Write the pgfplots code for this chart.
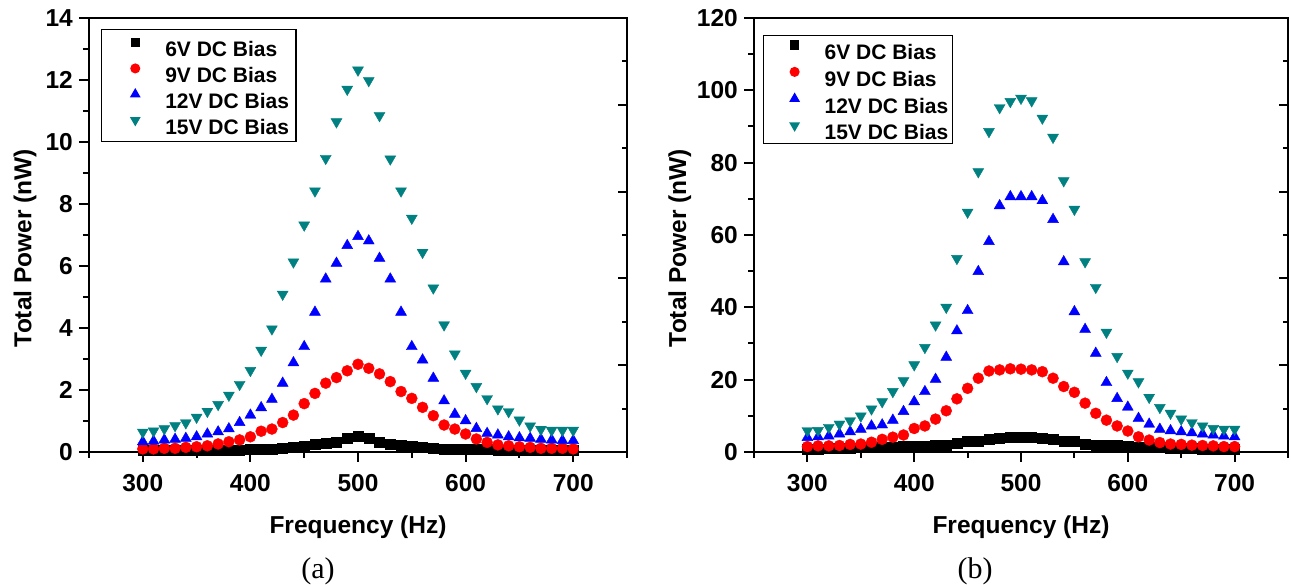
\documentclass[border=0pt]{standalone}
\usepackage{pgfplots}
\pgfplotsset{compat=1.18}
\usepackage{pgfplotstable}
\usepackage{fontspec}
\setmainfont{Liberation Sans}
\newfontfamily\serifff{Liberation Serif}
\definecolor{tealc}{RGB}{0,128,128}
\definecolor{redc}{RGB}{255,0,0}
\definecolor{bluec}{RGB}{0,0,255}

\pgfplotstableread{
f k6 k9 k12 k15
300 0.05 0.10 0.33 0.64
310 0.05 0.10 0.35 0.68
320 0.05 0.12 0.39 0.75
330 0.05 0.12 0.41 0.85
340 0.05 0.15 0.44 0.94
350 0.06 0.17 0.49 1.12
360 0.06 0.20 0.58 1.31
370 0.06 0.26 0.65 1.53
380 0.06 0.33 0.75 1.83
390 0.07 0.39 0.95 2.18
400 0.08 0.49 1.19 2.63
410 0.08 0.67 1.43 3.28
420 0.10 0.74 1.70 3.97
430 0.12 0.95 2.22 5.09
440 0.15 1.19 2.88 6.13
450 0.19 1.56 3.40 7.32
460 0.25 1.89 4.51 8.42
470 0.28 2.22 5.58 9.47
480 0.31 2.40 6.09 10.65
490 0.44 2.62 6.66 11.70
500 0.50 2.83 6.95 12.32
510 0.45 2.70 6.81 11.98
520 0.30 2.52 6.25 10.85
530 0.26 2.27 5.58 9.45
540 0.23 1.95 4.51 8.42
550 0.19 1.73 3.40 7.54
560 0.15 1.44 2.97 6.44
570 0.12 1.17 2.38 5.29
580 0.10 0.87 1.65 4.10
590 0.10 0.74 1.22 3.16
600 0.09 0.58 1.01 2.54
610 0.08 0.42 0.76 2.11
620 0.08 0.31 0.60 1.72
630 0.07 0.23 0.55 1.39
640 0.07 0.20 0.49 1.30
650 0.06 0.17 0.46 1.03
660 0.06 0.15 0.44 0.84
670 0.06 0.12 0.41 0.73
680 0.05 0.12 0.39 0.70
690 0.05 0.12 0.37 0.70
700 0.05 0.10 0.37 0.70
}\dataA

\pgfplotstableread{
f k6 k9 k12 k15
300 0.9 1.5 4.0 5.9
310 0.9 1.7 4.2 5.95
320 1.0 1.7 4.4 6.8
330 1.0 1.8 5.0 7.7
340 1.1 2.1 5.6 8.6
350 1.2 2.2 6.3 9.95
360 1.3 2.7 7.2 11.9
370 1.3 3.5 7.5 13.9
380 1.3 4.1 8.8 16.7
390 1.5 4.7 11.2 19.7
400 1.5 6.5 13.9 24.1
410 1.7 7.2 16.7 28.9
420 1.8 9.1 20.1 35.1
430 2.0 11.4 26.2 40.0
440 2.4 14.7 33.5 53.5
450 2.9 17.6 39.1 66.3
460 3.1 20.4 49.9 77.5
470 3.5 22.4 58.2 88.6
480 3.9 22.7 68.1 95.2
490 4.2 23.0 70.6 96.9
500 4.2 22.9 70.6 97.8
510 4.2 22.7 70.6 97.1
520 3.9 22.2 69.5 92.3
530 3.5 20.4 64.3 87.0
540 3.1 18.1 52.6 75.0
550 2.9 16.5 38.8 67.1
560 2.2 13.5 33.9 52.6
570 2.0 10.7 27.3 45.5
580 1.8 8.8 19.2 33.1
590 1.8 7.2 14.8 26.4
600 1.5 5.8 12.4 21.8
610 1.3 4.2 9.3 19.4
620 1.3 3.3 7.7 15.1
630 1.2 2.6 6.3 12.3
640 1.1 2.2 5.9 10.7
650 1.0 2.1 5.6 9.1
660 1.0 1.9 5.3 8.1
670 0.9 1.8 5.0 7.2
680 0.9 1.7 4.7 6.5
690 0.9 1.5 4.4 6.3
700 0.9 1.5 4.2 6.3
}\dataB

\pgfplotsset{
  mainax/.style={
    scale only axis, height=434pt,
    xmin=250, xmax=750, ymin=0,
    xtick={300,400,...,700}, minor xtick={250,350,...,750},
    xtick pos=left, ytick pos=left, tick align=outside,
    major tick length=10pt, minor tick length=6pt,
    axis line style={line width=2.4pt},
    every tick/.style={black, line width=2pt},
    /pgf/number format/assume math mode=true,
    tick label style={font=\fontsize{24.5}{24.5}\selectfont\bfseries},
    xticklabel style={inner sep=0pt, yshift=-12pt},
    yticklabel style={inner sep=0pt, xshift=-6pt},
    xlabel={Frequency (Hz)},
    ylabel={Total Power (nW)},
    every axis x label/.style={at={(axis description cs:0.5,-0.174)}, anchor=center,
      font=\fontsize{24.5}{24.5}\selectfont\bfseries},
    only marks,
    legend image code/.code={\path[draw=none,fill=none] (-27pt,0pt) rectangle (30pt,15pt);
      \draw[##1, every mark/.append style={scale=0.8}] plot coordinates {(0pt,7.5pt)};},
    legend cell align=left,
    legend style={anchor=north west, draw=black, line width=1.2pt,
      inner xsep=7pt, column sep=0pt,
      nodes={inner sep=0pt}, font=\fontsize{21}{21}\selectfont\bfseries},
  },
  mirrorax/.style={
    scale only axis, height=434pt,
    xmin=250, xmax=750, ymin=0, ymax=5,
    xtick=\empty, minor xtick={300,350,...,700},
    ytick={0,1,...,5}, minor ytick={0.5,1.5,...,4.5},
    xtick pos=right, ytick pos=right, tick align=inside,
    xticklabels={}, yticklabels={},
    major tick length=9pt, minor tick length=5pt,
    axis line style={draw=none},
    every tick/.style={black, line width=2pt},
  },
  s6/.style={mark=square*, color=black, mark size=5pt},
  s9/.style={mark=*, color=redc, mark size=5.5pt},
  s12/.style={mark=triangle*, color=bluec, mark size=6.3pt},
  s15/.style={mark=triangle*, color=tealc, mark size=6.3pt, mark options={rotate=180}},
}

\begin{document}
\begin{tikzpicture}
\useasboundingbox (0pt,0pt) rectangle (1291pt,585pt);
% ---- (a)
\begin{axis}[mainax, at={(89pt,133pt)}, anchor=south west, width=538pt,
  ymax=14, ytick={0,2,...,14}, minor ytick={1,3,...,13},
  every axis y label/.style={at={(axis description cs:-0.119,0.47)}, rotate=90, anchor=center,
    font=\fontsize{24.5}{24.5}\selectfont\bfseries},
  legend style={at={(axis description cs:0.0217,0.9747)}, inner ysep=5.5pt, row sep=2.5pt}]
\addplot[s6] table[x=f,y=k6] {\dataA};
\addlegendentry{6V DC Bias}
\addplot[s9] table[x=f,y=k9] {\dataA};
\addlegendentry{9V DC Bias}
\addplot[s12] table[x=f,y=k12] {\dataA};
\addlegendentry{12V DC Bias}
\addplot[s15] table[x=f,y=k15] {\dataA};
\addlegendentry{15V DC Bias}
\end{axis}
\begin{axis}[mirrorax, at={(89pt,133pt)}, anchor=south west, width=538pt]
\end{axis}
% ---- (b)
\begin{axis}[mainax, at={(754pt,133pt)}, anchor=south west, width=534pt,
  ymax=120, ytick={0,20,...,120}, minor ytick={10,30,...,110},
  every axis y label/.style={at={(axis description cs:-0.139,0.47)}, rotate=90, anchor=center,
    font=\fontsize{24.5}{24.5}\selectfont\bfseries},
  legend style={at={(axis description cs:0.0169,0.961)}, inner ysep=2pt, inner xsep=4pt, row sep=3.5pt}]
\addplot[s6] table[x=f,y=k6] {\dataB};
\addlegendentry{6V DC Bias}
\addplot[s9] table[x=f,y=k9] {\dataB};
\addlegendentry{9V DC Bias}
\addplot[s12] table[x=f,y=k12] {\dataB};
\addlegendentry{12V DC Bias}
\addplot[s15] table[x=f,y=k15] {\dataB};
\addlegendentry{15V DC Bias}
\end{axis}
\begin{axis}[mirrorax, at={(754pt,133pt)}, anchor=south west, width=534pt]
\end{axis}
\node[font=\fontsize{30}{30}\selectfont\serifff] at (318pt,14pt) {(a)};
\node[font=\fontsize{30}{30}\selectfont\serifff] at (975pt,14pt) {(b)};
\end{tikzpicture}
\end{document}
